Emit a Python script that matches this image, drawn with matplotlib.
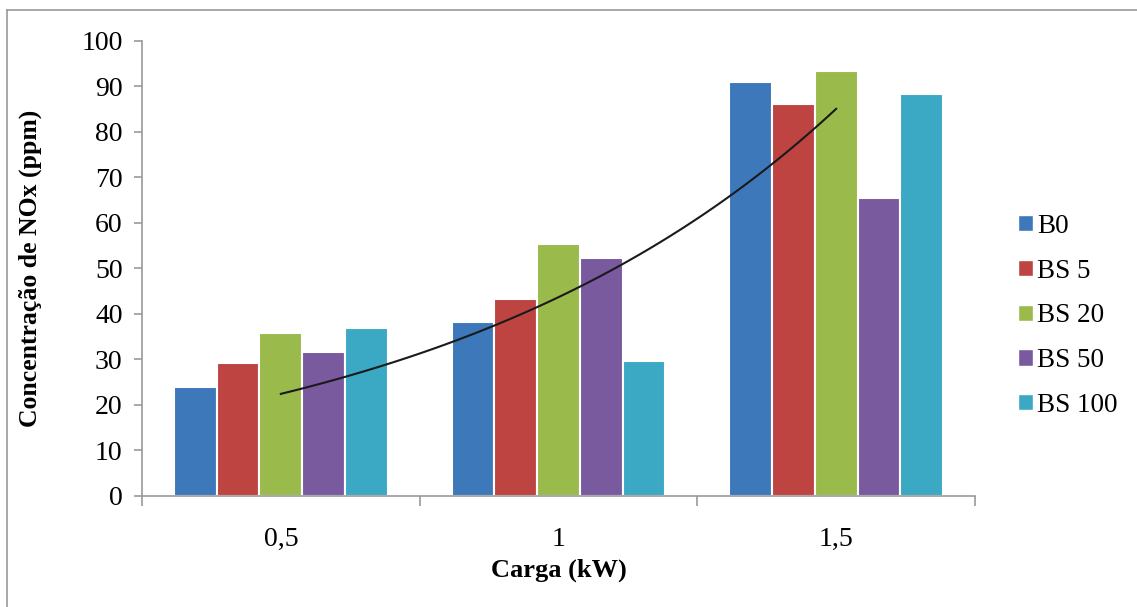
import matplotlib
matplotlib.use('Agg')
from matplotlib import pyplot as plt
from matplotlib.lines import Line2D
from matplotlib.patches import Patch
import numpy as np

plt.rcParams['font.family'] = ['Liberation Serif', 'DejaVu Serif']

cargas = ['0,5', '1', '1,5']
series = ['B0', 'BS 5', 'BS 20', 'BS 50', 'BS 100']
b0 = [24.0, 38.2, 91.0]
bs5 = [29.2, 43.4, 86.1]
bs20 = [35.8, 55.4, 93.4]
bs50 = [31.6, 52.3, 65.5]
bs100 = [36.9, 29.6, 88.4]
cores = ['#3d78bb', '#be4441', '#9aba4c', '#7a5a9e', '#3ba8c4']

valores = [b0, bs5, bs20, bs50, bs100]

fig = plt.figure(figsize=(11.37, 6.07), dpi=100)
ax = fig.add_axes([0.1249, 0.1829, 0.7326, 0.7496])

x = np.arange(len(cargas))
w = 1 / 6.5
for i, (nome, vals, cor) in enumerate(zip(series, valores, cores)):
    ax.bar(x + (i - 2) * w, vals, width=w, color=cor, edgecolor='white',
           linewidth=1.5, label=nome, zorder=2)

# linha de tendência exponencial ajustada sobre B0
k = x + 1
coef = np.polyfit(k, np.log(b0), 1)
xs = np.linspace(0, 2, 100)
ax.plot(xs, np.exp(np.polyval(coef, xs + 1)), color='#1a1a1a', lw=1.5, zorder=3)

ax.set_xlim(-0.5, 2.5)
ax.set_ylim(0, 100)
ax.set_yticks(range(0, 101, 10))
ax.set_xticks(x)
ax.set_xticklabels(cargas)
ax.set_xticks([-0.5, 0.5, 1.5, 2.5], minor=True)
ax.tick_params(axis='x', which='major', length=0, pad=22, labelsize=20)
ax.tick_params(axis='x', which='minor', length=7, color='#9a9a9a', width=1.2)
ax.tick_params(axis='y', length=6, color='#9a9a9a', width=1.2, labelsize=20, pad=8)
for s in ['top', 'right']:
    ax.spines[s].set_visible(False)
for s in ['left', 'bottom']:
    ax.spines[s].set_color('#9a9a9a')
    ax.spines[s].set_linewidth(1.2)

ax.set_ylabel('Concentração de NOx (ppm)', fontsize=18.5, fontweight='bold', labelpad=28)
ax.set_xlabel('Carga (kW)', fontsize=19, fontweight='bold', labelpad=5)

handles = [Patch(facecolor=c, edgecolor='white') for c in cores]
fig.legend(handles, series, loc='upper left', bbox_to_anchor=(0.874, 0.688),
           frameon=False, fontsize=19.5, handlelength=0.55, handleheight=0.55,
           handletextpad=0.15, labelspacing=0.73)

# moldura da figura
fig.add_artist(Line2D([7 / 1137, 7 / 1137], [0, 1 - 10 / 607], color='#9a9a9a', lw=1.2))
fig.add_artist(Line2D([7 / 1137, 1], [1 - 10 / 607, 1 - 10 / 607], color='#9a9a9a', lw=1.2))

fig.savefig('out.png', dpi=100)
